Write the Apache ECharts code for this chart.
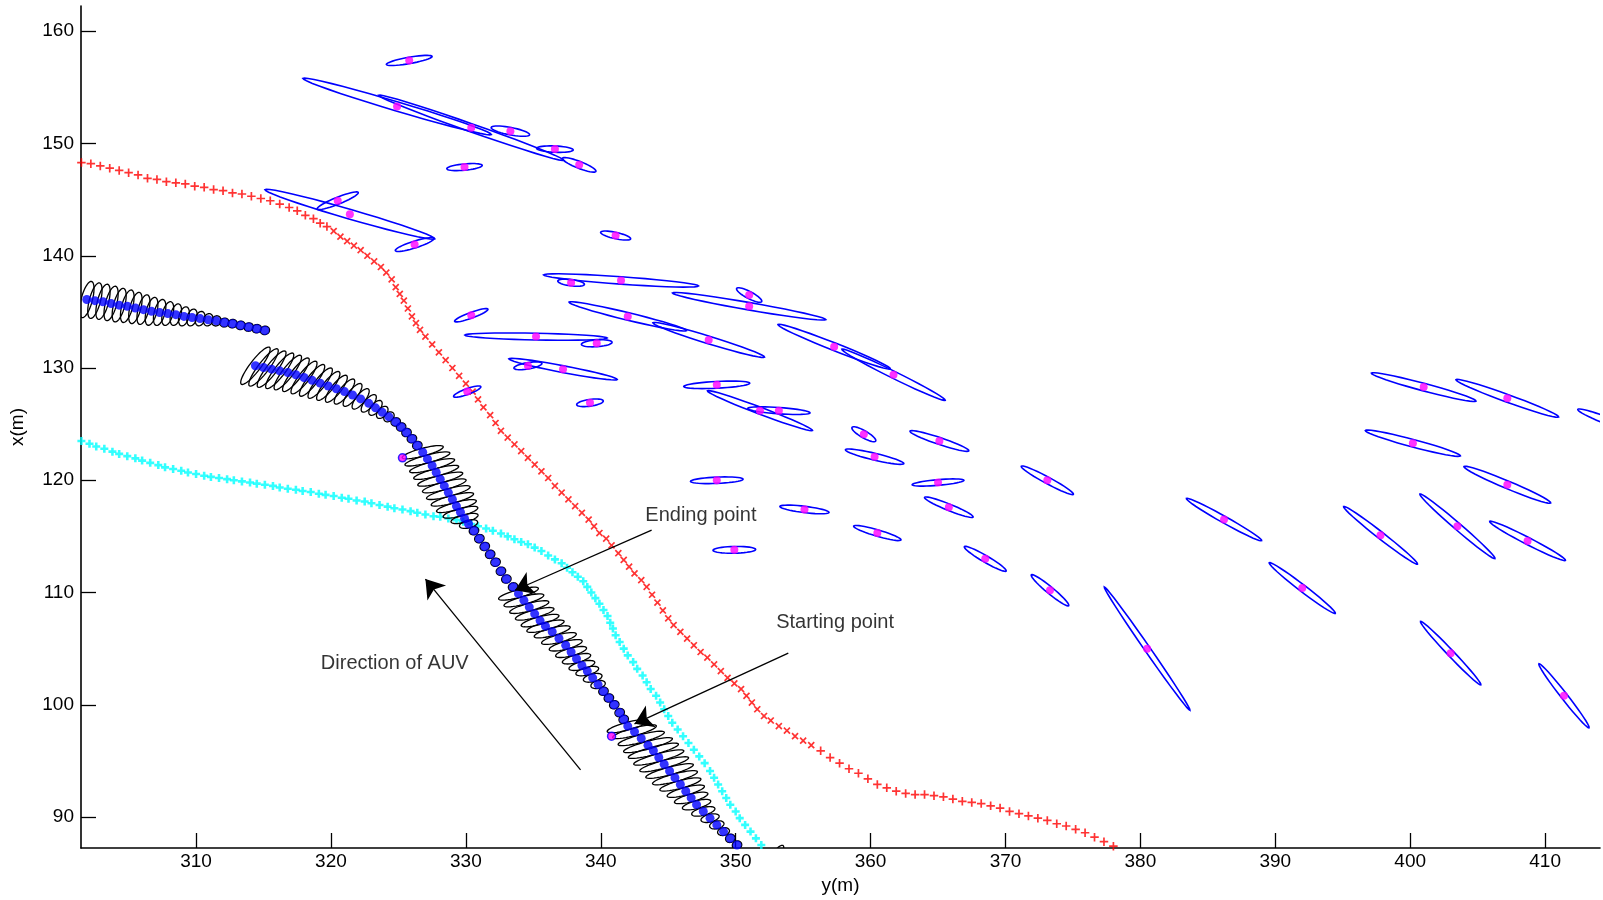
<!DOCTYPE html>
<html>
<head>
<meta charset="utf-8">
<script src="https://cdn.jsdelivr.net/npm/echarts@6/dist/echarts.min.js"></script>
<style>html,body{margin:0;padding:0;background:#fff}#c{width:1603px;height:900px}</style>
</head>
<body>
<div id="c"></div>
<script>
// ---------- axis ticks ----------
const xTicks = [310, 320, 330, 340, 350, 360, 370, 380, 390, 400, 410];
const yTicks = [90, 100, 110, 120, 130, 140, 150, 160];

// ---------- red path ('+' then 'x' then '+') ----------
const redPlusA = [[301.5,148.3],[302.2,148.2],[302.9,148.0],[303.6,147.8],[304.3,147.6],[305.0,147.4],[305.7,147.2],[306.4,146.9],[307.1,146.8],[307.8,146.6],[308.5,146.5],[309.2,146.4],[309.9,146.2],[310.6,146.1],[311.3,145.9],[312.0,145.8],[312.7,145.6],[313.4,145.5],[314.1,145.3],[314.8,145.1],[315.5,144.9],[316.2,144.6],[316.9,144.3],[317.5,144.0],[318.1,143.6],[318.7,143.3],[319.2,142.9],[319.7,142.6]];
const redCross = [[320.2,142.2],[320.7,141.7],[321.2,141.3],[321.7,140.9],[322.2,140.5],[322.7,140.0],[323.2,139.5],[323.7,139.0],[324.1,138.5],[324.5,137.9],[324.8,137.2],[325.1,136.6],[325.4,136.0],[325.7,135.3],[326.0,134.6],[326.3,134.0],[326.6,133.4],[327.0,132.8],[327.5,132.1],[328.0,131.4],[328.5,130.7],[329.0,130.0],[329.5,129.3],[330.0,128.6],[330.5,127.9],[330.9,127.2],[331.3,126.5],[331.8,125.8],[332.2,125.1],[332.6,124.4],[333.1,123.8],[333.6,123.2],[334.1,122.6],[334.6,122.0],[335.1,121.4],[335.6,120.8],[336.1,120.2],[336.6,119.5],[337.1,118.9],[337.6,118.3],[338.1,117.7],[338.6,117.1],[339.1,116.5],[339.5,115.9],[339.9,115.3],[340.4,114.8],[340.8,114.2],[341.3,113.5],[341.7,112.9],[342.1,112.3],[342.5,111.7],[343.0,111.1],[343.4,110.5],[343.8,109.8],[344.2,109.1],[344.6,108.4],[345.0,107.7],[345.4,107.1],[345.9,106.5],[346.4,105.9],[346.9,105.3],[347.4,104.7],[347.9,104.2],[348.4,103.6],[348.9,103.0],[349.4,102.4],[349.9,101.9],[350.4,101.4],[350.8,100.8],[351.2,100.2],[351.6,99.6],[352.1,99.0],[352.6,98.6],[353.2,98.1],[353.8,97.7],[354.4,97.2],[355.0,96.8],[355.6,96.4]];
const redPlusB = [[356.3,95.9],[357.0,95.3],[357.7,94.8],[358.4,94.3],[359.1,93.9],[359.8,93.4],[360.5,92.9],[361.2,92.6],[361.9,92.3],[362.6,92.1],[363.3,92.0],[364.0,92.0],[364.7,91.9],[365.4,91.8],[366.1,91.6],[366.8,91.4],[367.5,91.3],[368.2,91.2],[368.9,91.0],[369.6,90.8],[370.3,90.5],[371.0,90.3],[371.7,90.1],[372.4,89.9],[373.1,89.7],[373.8,89.4],[374.5,89.2],[375.2,88.9],[375.9,88.6],[376.6,88.2],[377.3,87.8],[378.0,87.4]];

// ---------- cyan path ----------
const cyanPath = [[301.5,123.5],[302.1,123.25],[302.6,123.0],[303.2,122.8],[303.8,122.55],[304.3,122.35],[304.9,122.15],[305.5,121.95],[306.0,121.75],[306.6,121.55],[307.2,121.35],[307.7,121.15],[308.3,121.0],[308.9,120.85],[309.4,120.7],[310.0,120.55],[310.6,120.4],[311.1,120.3],[311.7,120.2],[312.3,120.1],[312.8,120.0],[313.4,119.9],[314.0,119.8],[314.5,119.7],[315.1,119.6],[315.7,119.5],[316.2,119.35],[316.8,119.25],[317.4,119.15],[317.9,119.05],[318.5,118.95],[319.1,118.8],[319.6,118.7],[320.2,118.6],[320.8,118.45],[321.3,118.35],[321.9,118.2],[322.5,118.1],[323.0,117.95],[323.6,117.8],[324.2,117.65],[324.7,117.5],[325.3,117.4],[325.9,117.25],[326.4,117.1],[327.0,116.95],[327.6,116.8],[328.1,116.75],[328.7,116.6],[329.3,116.45],[329.8,116.3],[330.4,116.1],[330.9,115.9],[331.5,115.7],[332.0,115.5],[332.6,115.25],[333.1,115.0],[333.6,114.75],[334.1,114.5],[334.6,114.3],[335.1,114.0],[335.6,113.7],[336.1,113.3],[336.6,112.95],[337.1,112.6],[337.5,112.2],[337.9,111.8],[338.3,111.4],[338.7,111.0],[339.0,110.5],[339.3,110.0],[339.6,109.5],[339.9,109.0],[340.2,108.45],[340.5,107.9],[340.7,107.3],[340.9,106.8],[341.1,106.2],[341.4,105.6],[341.7,105.0],[342.0,104.4],[342.4,103.8],[342.7,103.2],[343.1,102.6],[343.4,102.0],[343.7,101.4],[344.1,100.8],[344.4,100.2],[344.7,99.6],[345.0,99.0],[345.3,98.4],[345.7,97.8],[346.1,97.2],[346.5,96.6],[346.9,96.0],[347.3,95.4],[347.7,94.8],[348.1,94.1],[348.4,93.5],[348.7,92.9],[349.0,92.3],[349.3,91.7],[349.6,91.1],[350.0,90.5],[350.3,89.9],[350.7,89.3],[351.1,88.7],[351.5,88.1],[351.9,87.5]];

// ---------- AUV estimated track, segment A ----------
const trackA = [[301.9,136.1],[302.5,136.0],[303.1,135.9],[303.7,135.75],[304.3,135.6],[304.9,135.5],[305.5,135.35],[306.1,135.2],[306.7,135.05],[307.3,134.95],[307.9,134.85],[308.5,134.75],[309.1,134.6],[309.7,134.5],[310.3,134.4],[310.9,134.3],[311.5,134.2],[312.1,134.05],[312.7,133.95],[313.3,133.8],[313.9,133.65],[314.5,133.5],[315.1,133.35]];
// covariance ellipses for segment A: [semi-major, semi-minor, angle deg]
const ellA = [[1.65,0.42,78],[1.62,0.42,78],[1.6,0.42,78],[1.57,0.42,78],[1.53,0.42,78],[1.48,0.41,78],[1.42,0.41,78],[1.35,0.4,78],[1.27,0.4,78],[1.18,0.4,78],[1.08,0.39,78],[0.98,0.38,78],[0.87,0.37,78],[0.76,0.36,78],[0.65,0.35,78],[0.55,0.35,78],[0.46,0.34,78],[0.4,0.34,78],[0.38,0.34,70],[0.38,0.34,70],[0.38,0.34,70],[0.38,0.34,70],[0.38,0.34,70]];

// ---------- AUV estimated track, segment B ----------
const trackB = [[314.4,130.2],[315.0,130.05],[315.6,129.9],[316.2,129.75],[316.8,129.6],[317.4,129.4],[318.0,129.15],[318.6,128.9],[319.2,128.65],[319.8,128.4],[320.4,128.15],[321.0,127.9],[321.6,127.6],[322.2,127.25],[322.8,126.85],[323.3,126.45],[323.8,126.05],[324.3,125.65],[324.8,125.2],[325.2,124.75],[325.6,124.25],[326.0,123.7],[326.4,123.1],[326.8,122.5],[327.15,121.9],[327.5,121.3],[327.8,120.7],[328.1,120.1],[328.4,119.5],[328.7,118.9],[329.0,118.3],[329.3,117.7],[329.6,117.15],[329.9,116.6],[330.2,116.1],[330.6,115.5],[331.0,114.8],[331.4,114.1],[331.8,113.4],[332.2,112.7],[332.6,111.9],[333.0,111.2],[333.5,110.5],[333.9,109.9],[334.3,109.3],[334.7,108.7],[335.1,108.1],[335.5,107.5],[335.9,107.0],[336.4,106.5],[336.9,105.9],[337.4,105.3],[337.8,104.7],[338.2,104.1],[338.6,103.5],[339.0,103.0],[339.4,102.4],[339.8,101.8],[340.2,101.2],[340.6,100.6],[341.0,100.0],[341.4,99.3],[341.7,98.7],[342.0,98.1],[342.5,97.6],[343.0,97.0],[343.5,96.4],[343.9,95.9],[344.3,95.3],[344.7,94.7],[345.1,94.1],[345.5,93.5],[345.9,92.9],[346.3,92.3],[346.7,91.7],[347.1,91.1],[347.6,90.5],[348.1,89.9],[348.6,89.3],[349.1,88.7],[349.6,88.1],[350.1,87.5]];
const ellB = [
  [1.95,0.42,58],[1.95,0.42,58],[1.9,0.42,58],[1.85,0.42,58],[1.8,0.42,58],[1.75,0.41,58],[1.7,0.41,58],[1.65,0.4,58],[1.58,0.4,58],[1.5,0.4,58],[1.4,0.39,58],[1.3,0.38,58],[1.18,0.37,58],[1.05,0.36,58],[0.9,0.35,58],[0.75,0.35,58],[0.6,0.34,58],[0.48,0.34,58],
  [0.38,0.34,60],[0.38,0.34,60],[0.38,0.34,60],[0.38,0.34,60],[0.38,0.34,60],
  [1.6,0.34,18],[1.75,0.34,18],[1.75,0.34,18],[1.75,0.34,18],[1.75,0.34,18],[1.7,0.34,18],[1.7,0.34,18],[1.65,0.34,18],[1.55,0.34,18],[1.35,0.34,18],[1.05,0.34,18],[0.7,0.34,18],
  [0.38,0.34,60],[0.38,0.34,60],[0.38,0.34,60],[0.38,0.34,60],[0.38,0.34,60],[0.38,0.34,60],[0.38,0.34,60],[0.38,0.34,60],
  [1.55,0.34,18],[1.55,0.34,18],[1.52,0.34,18],[1.5,0.34,18],[1.47,0.34,18],[1.45,0.34,18],[1.4,0.34,18],[1.35,0.34,18],[1.28,0.34,18],[1.2,0.34,18],[1.1,0.34,18],[1.0,0.34,18],[0.88,0.34,18],[0.72,0.34,18],[0.55,0.34,18],
  [0.38,0.34,60],[0.38,0.34,60],[0.38,0.34,60],[0.38,0.34,60],[0.38,0.34,60],
  [1.6,0.34,18],[1.7,0.34,18],[1.8,0.34,18],[1.9,0.34,18],[1.95,0.34,18],[1.95,0.34,18],[1.9,0.34,18],[1.85,0.34,18],[1.75,0.34,18],[1.6,0.34,18],[1.45,0.34,18],[1.3,0.34,18],[1.1,0.34,18],[0.9,0.34,18],[0.7,0.34,18],[0.55,0.34,18],[0.45,0.34,18],
  [0.38,0.34,60],[0.38,0.34,60]
];
// partially visible ellipse at bottom edge: [cx, cy, a, b, angle]
const ellExtra = [[353.0,86.6,1.0,0.3,60]];

// ---------- landmarks: [cx, cy, semi-major, semi-minor, angle deg] ----------
const landmarks = [
  [325.8,157.4,1.73,0.28,12],[324.9,153.3,7.41,0.4,-19.7],[330.4,151.4,7.45,0.35,-22.9],[333.3,151.1,1.46,0.33,-13],
  [336.6,149.5,1.36,0.28,-3],[338.4,148.1,1.37,0.3,-25.6],[329.9,147.9,1.32,0.28,6.5],[320.5,144.9,1.69,0.3,26],
  [321.4,143.7,6.66,0.42,-19.2],[326.2,141.0,1.53,0.3,21],[341.1,141.8,1.15,0.28,-15],[341.5,137.8,5.76,0.33,-4.9],
  [337.8,137.6,1.0,0.28,-9],[351.0,136.5,1.1,0.3,-33],[351.0,135.5,5.8,0.33,-11.8],[342.0,134.6,4.53,0.33,-16.2],
  [348.0,132.5,4.41,0.33,-20.3],[335.2,132.8,5.27,0.3,-1.4],[339.7,132.2,1.14,0.3,5],[357.3,131.9,4.61,0.33,-25.4],
  [361.7,129.4,4.45,0.3,-30.7],[348.6,128.5,2.45,0.3,3.5],[339.2,126.9,1.0,0.3,10],[351.8,126.2,4.27,0.3,-24.4],
  [353.2,126.2,2.32,0.28,-4.8],[359.5,124.1,1.07,0.3,-35.6],[365.1,123.5,2.35,0.3,-22],[360.3,122.1,2.25,0.3,-16],
  [348.6,120.0,1.95,0.28,3],[365.0,119.8,1.93,0.25,6],[355.1,117.4,1.84,0.28,-8.4],[365.8,117.6,2.0,0.28,-26],
  [360.5,115.3,1.86,0.28,-19.5],[349.9,113.8,1.58,0.3,1.5],[373.1,120.0,2.3,0.28,-33],[368.5,113.0,1.89,0.28,-35.2],
  [373.3,110.2,1.95,0.28,-45],[386.2,116.5,3.36,0.28,-34],[380.5,105.0,6.34,0.22,-60],[392.0,110.4,3.33,0.28,-42.7],
  [397.8,115.1,3.75,0.28,-43.2],[403.5,115.9,4.0,0.28,-46],[408.7,114.6,3.3,0.3,-31.8],[401.0,128.3,4.07,0.33,-17.8],
  [407.2,127.3,4.15,0.33,-23.6],[414.6,125.3,2.4,0.3,-25],[400.2,123.3,3.7,0.33,-17.8],[407.2,119.6,3.6,0.33,-26.8],
  [403.0,104.6,3.6,0.25,-51.7],[411.4,100.8,3.4,0.25,-57],[337.2,129.9,4.12,0.3,-12.9],[334.6,130.2,1.06,0.28,12],
  [330.4,134.7,1.35,0.25,24],[330.1,127.9,1.1,0.25,24]
];

// magenta points with blue edge near the track
const specialPts = [[325.3,122.0],[340.8,97.2]];

// ---------- annotations ----------
const arrows = [
  {from:[343.77,115.55], to:[333.64,110.2]},
  {from:[353.9,104.6], to:[342.5,98.3]},
  {from:[338.5,94.2], to:[327.0,111.2]}
];
const notes = [
  [343.3,116.85,'Ending point'],
  [353.0,107.3,'Starting point'],
  [319.25,103.7,'Direction of AUV']
];

// ---------- build ----------
const FONT = '"Liberation Sans", Arial, Helvetica, sans-serif';
const plusPath = 'path://M4,0h2v4h4v2h-4v4h-2v-4h-4v-2h4z';
const boldPlusPath = 'path://M3.4,0h3.2v3.4h3.4v3.2h-3.4v3.4h-3.2v-3.4h-3.4v-3.2h3.4z';

function ellipseRender(color, lw) {
  return function (params, api) {
    const cx = api.value(0), cy = api.value(1), a = api.value(2), b = api.value(3), ang = api.value(4) * Math.PI / 180;
    const c = Math.cos(ang), s = Math.sin(ang);
    const pts = [];
    const N = 40;
    for (let i = 0; i < N; i++) {
      const t = i / N * Math.PI * 2;
      const ex = a * Math.cos(t), ey = b * Math.sin(t);
      pts.push(api.coord([cx + ex * c - ey * s, cy + ex * s + ey * c]));
    }
    return { type: 'polygon', shape: { points: pts }, style: { fill: 'none', stroke: color, lineWidth: lw } };
  };
}

const trackEllData = trackA.map((p, i) => [p[0], p[1], ellA[i][0], ellA[i][1], ellA[i][2]])
  .concat(trackB.map((p, i) => [p[0], p[1], ellB[i][0], ellB[i][1], ellB[i][2]]))
  .concat(ellExtra);

const chart = echarts.init(document.getElementById('c'), null, { renderer: 'canvas' });
chart.setOption({
  animation: false,
  backgroundColor: '#fff',
  grid: { left: 81, right: 3, top: 6, bottom: 52, containLabel: false },
  xAxis: {
    type: 'value', min: 301.47, max: 414.07,
    name: 'y(m)', nameLocation: 'middle', nameGap: 28,
    nameTextStyle: { color: '#000', fontSize: 19, fontFamily: FONT },
    axisLine: { show: true, onZero: false, lineStyle: { color: '#000', width: 1.6 } },
    axisTick: { show: true, inside: true, length: 15, customValues: xTicks, lineStyle: { color: '#000', width: 1.3 } },
    axisLabel: { show: true, customValues: xTicks, margin: 4, color: '#000', fontSize: 19, fontFamily: FONT },
    splitLine: { show: false }
  },
  yAxis: {
    type: 'value', min: 87.24, max: 162.25,
    name: 'x(m)', nameLocation: 'middle', nameGap: 54, nameRotate: 90,
    nameTextStyle: { color: '#000', fontSize: 19, fontFamily: FONT },
    axisLine: { show: true, onZero: false, lineStyle: { color: '#000', width: 1.6 } },
    axisTick: { show: true, inside: true, length: 15, customValues: yTicks, lineStyle: { color: '#000', width: 1.3 } },
    axisLabel: { show: true, customValues: yTicks, margin: 7, color: '#000', fontSize: 19, fontFamily: FONT },
    splitLine: { show: false }
  },
  series: [
    { type: 'scatter', data: redPlusA.concat(redPlusB), symbol: plusPath, symbolSize: 8.5, itemStyle: { color: '#ff0000' }, clip: true, z: 2 },
    { type: 'scatter', data: redCross, symbol: plusPath, symbolSize: 8.5, symbolRotate: 45, itemStyle: { color: '#ff0000' }, clip: true, z: 2 },
    { type: 'scatter', data: cyanPath, symbol: boldPlusPath, symbolSize: 8, itemStyle: { color: '#00ffff' }, clip: true, z: 2 },
    { type: 'custom', data: landmarks, renderItem: ellipseRender('#0000ff', 1.6), encode: { x: 0, y: 1 }, clip: true, z: 3 },
    { type: 'scatter', data: landmarks.map(l => [l[0], l[1]]), symbol: 'circle', symbolSize: 8, itemStyle: { color: '#ff00ff' }, clip: true, z: 4 },
    { type: 'custom', data: trackEllData, renderItem: ellipseRender('#000000', 1.3), encode: { x: 0, y: 1 }, clip: true, z: 5 },
    { type: 'scatter', data: trackA.concat(trackB), symbol: 'circle', symbolSize: 9, itemStyle: { color: '#0000ff' }, clip: true, z: 6 },
    { type: 'scatter', data: specialPts, symbol: 'circle', symbolSize: 8, itemStyle: { color: '#ff00ff', borderColor: '#0000ff', borderWidth: 1.5 }, clip: true, z: 6 },
    { type: 'lines', coordinateSystem: 'cartesian2d', data: arrows.map(a => ({ coords: [a.from, a.to] })),
      symbol: ['none', 'arrow'], symbolSize: 18, lineStyle: { color: '#000', width: 1.3, opacity: 1 }, z: 7 },
    { type: 'scatter', data: notes, symbol: 'circle', symbolSize: 0, z: 8,
      label: { show: true, position: 'right', distance: 0, formatter: p => p.data[2], color: '#000', fontSize: 20, fontFamily: FONT } }
  ]
});
</script>
</body>
</html>
